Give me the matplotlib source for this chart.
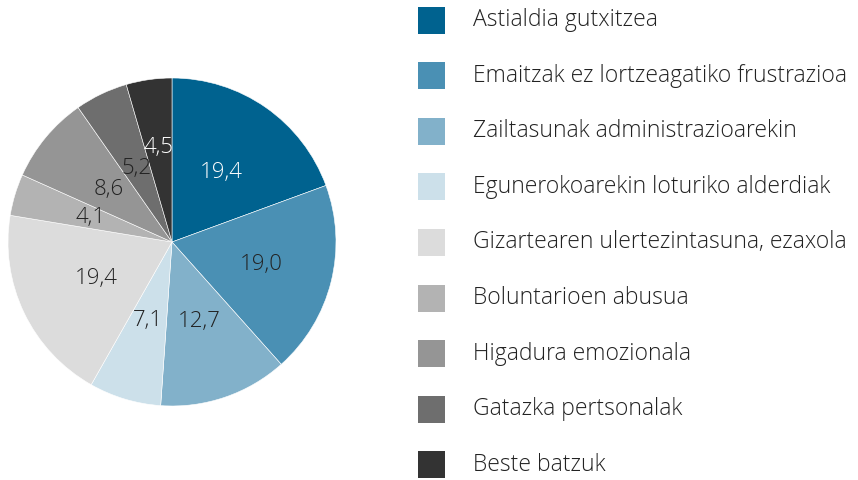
import matplotlib
matplotlib.use("Agg")
import matplotlib.pyplot as plt
from matplotlib.patches import Rectangle
import numpy as np

plt.rcParams['font.family'] = ['Open Sans', 'DejaVu Sans']

categories = [
    "Astialdia gutxitzea",
    "Emaitzak ez lortzeagatiko frustrazioa",
    "Zailtasunak administrazioarekin",
    "Egunerokoarekin loturiko alderdiak",
    "Gizartearen ulertezintasuna, ezaxola",
    "Boluntarioen abusua",
    "Higadura emozionala",
    "Gatazka pertsonalak",
    "Beste batzuk",
]
values = [19.4, 19.0, 12.7, 7.1, 19.4, 4.1, 8.6, 5.2, 4.5]
colors = ["#00628f", "#4a90b4", "#82b1ca", "#cce0ea", "#dcdcdc",
          "#b3b3b3", "#959595", "#6e6e6e", "#333333"]
label_colors = ["white", "#222222", "#222222", "#222222", "#222222",
                "#222222", "#222222", "#222222", "white"]
label_dist = [0.52, 0.56, 0.51, 0.5, 0.51, 0.52, 0.5, 0.5, 0.58]

fig = plt.figure(figsize=(8.58, 4.8), dpi=100)

ax = fig.add_axes([8 / 858, 74 / 480, 328 / 858, 328 / 480])
wedges, texts, autotexts = ax.pie(
    values, colors=colors, startangle=90, counterclock=False,
    autopct=lambda p: f"{p:.1f}".replace(".", ","), pctdistance=0.52,
    wedgeprops=dict(linewidth=0.4, edgecolor="white"),
    textprops=dict(fontsize=16, fontweight="light"))
for w, t, c, d in zip(wedges, autotexts, label_colors, label_dist):
    ang = np.deg2rad((w.theta1 + w.theta2) / 2)
    t.set_position((d * np.cos(ang), d * np.sin(ang)))
    t.set_color(c)
ax.set_xlim(-1, 1)
ax.set_ylim(-1, 1)
ax.set_aspect("equal")

# legend drawn by hand
lax = fig.add_axes([0, 0, 1, 1])
lax.set_xlim(0, 858)
lax.set_ylim(480, 0)
lax.axis("off")
y0, dy = 20, 55.6
for i, (name, col) in enumerate(zip(categories, colors)):
    y = y0 + i * dy
    lax.add_patch(Rectangle((418, y - 13.5), 27, 27, facecolor=col, edgecolor="none"))
    lax.text(473, y, name, fontsize=16.5, fontweight="light", color="#222222",
             va="center", ha="left")

fig.savefig("out.png", dpi=100)
